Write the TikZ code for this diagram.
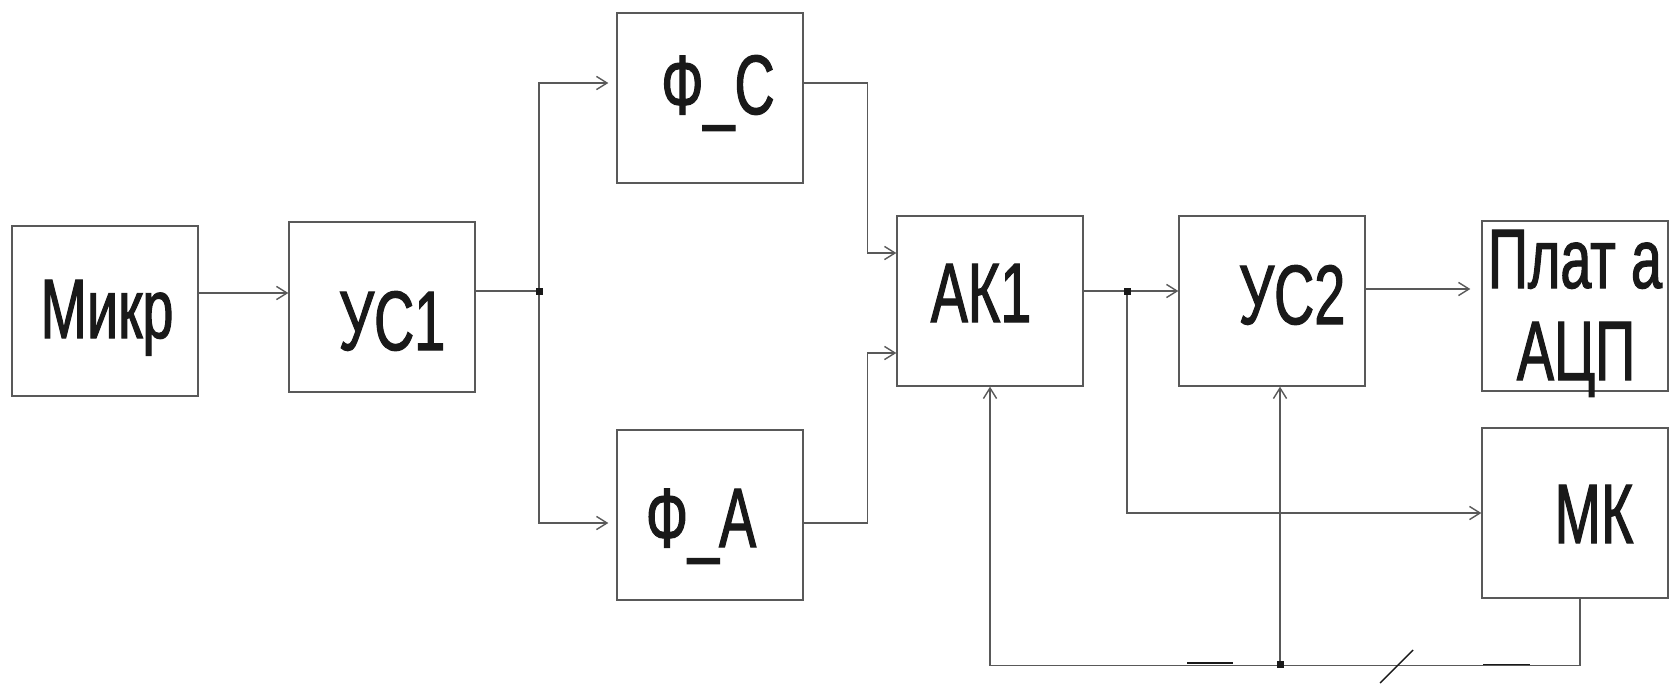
\documentclass[tikz,border=0pt]{standalone}
\usepackage{fontspec}
\newfontfamily\narrowsf{Liberation Sans}[FakeStretch=0.66, FakeBold=1.3]
\usetikzlibrary{arrows.meta,positioning,calc}

\begin{document}
\begin{tikzpicture}[
    x=0.02cm, y=-0.02cm,
    block/.style={draw=black!65, line width=0.8pt, minimum width=3.72cm, minimum height=3.4cm, inner sep=0pt},
    lbl/.style={font=\narrowsf\fontsize{48}{52}\selectfont, text=black!90, inner sep=0pt, anchor=base},
    wire/.style={draw=black!65, line width=0.8pt},
    arr/.style={wire, -{Straight Barb[length=6pt,width=7.5pt]}},
    junc/.style={rectangle, fill=black!90, inner sep=0pt, minimum size=0.14cm}
]
    \useasboundingbox (0,0) rectangle (1669,683);

    % blocks
    \node[block] (mikr) at (105,311) {};
    \node[block] (us1) at (382,307) {};
    \node[block] (fc) at (710,98) {};
    \node[block] (fa) at (710,515) {};
    \node[block] (ak1) at (990,301) {};
    \node[block] (us2) at (1272,301) {};
    \node[block] (adc) at (1575,306) {};
    \node[block] (mk) at (1575,513) {};

    % labels
    \node[lbl] (mikr-t) at ([shift={(2,27)}]mikr.center) {Микр};
    \node[lbl] (us1-t) at ([shift={(10,43)}]us1.center) {УС1};
    \node[lbl] (fc-t) at ([shift={(8,16)}]fc.center) {Ф\_С};
    \node[lbl] (fa-t) at ([shift={(-9,32)}]fa.center) {Ф\_А};
    \node[lbl] (ak1-t) at ([shift={(-9,21)}]ak1.center) {АК1};
    \node[lbl] (us2-t) at ([shift={(20,23)}]us2.center) {УС2};
    \node[lbl] (adc-t1) at ([shift={(0,-18)}]adc.center) {Плат а};
    \node[lbl] (adc-t2) at ([shift={(1,74)}]adc.center) {АЦП};
    \node[lbl] (mk-t) at ([shift={(19,30)}]mk.center) {МК};

    % junctions
    \coordinate (j1) at (539,291);
    \coordinate (j2) at (1127,291);
    \coordinate (j3) at (1280,664);

    % signal path
    \draw[arr] ($(mikr.east)+(0,-18)$) coordinate (m1) -- (m1 -| us1.west);
    \draw[wire] (us1.east |- j1) -- (j1);
    \draw[arr] (j1) |- ($(fc.west)+(-8,-15)$);
    \draw[arr] (j1) |- ($(fa.west)+(-8,8)$);
    \draw[arr] ($(fc.east)+(0,-15)$) -- ++(64,0) |- ($(ak1.west)+(0,-48)$);
    \draw[arr] ($(fa.east)+(0,8)$) -- ++(64,0) |- ($(ak1.west)+(0,52)$);
    \draw[arr] (ak1.east |- j2) -- (j2 -| us2.west);
    \draw[arr] (j2) |- (mk.west);
    \draw[arr] ($(us2.east)+(0,-12)$) coordinate (u2) -- ($(u2 -| adc.west)+(-11,0)$);

    % feedback from MK
    \draw[arr] ($(mk.south)+(5,0)$) -- ++(0,67) -| (ak1.south);
    \draw[arr] (j3) -- (j3 |- us2.south);

    \node[junc] (d1) at (j1) {};
    \node[junc] (d2) at (j2) {};
    \node[junc] (d3) at (j3) {};

    % marks on the bottom line
    \draw[line width=1.1pt, black!90] (1187,663) -- (1233,663);
    \draw[line width=1.1pt, black!90] (1483,664.5) -- (1530,664.5);
    \draw[line width=0.8pt, black!90] (1380,683) -- (1413,650);
\end{tikzpicture}
\end{document}
